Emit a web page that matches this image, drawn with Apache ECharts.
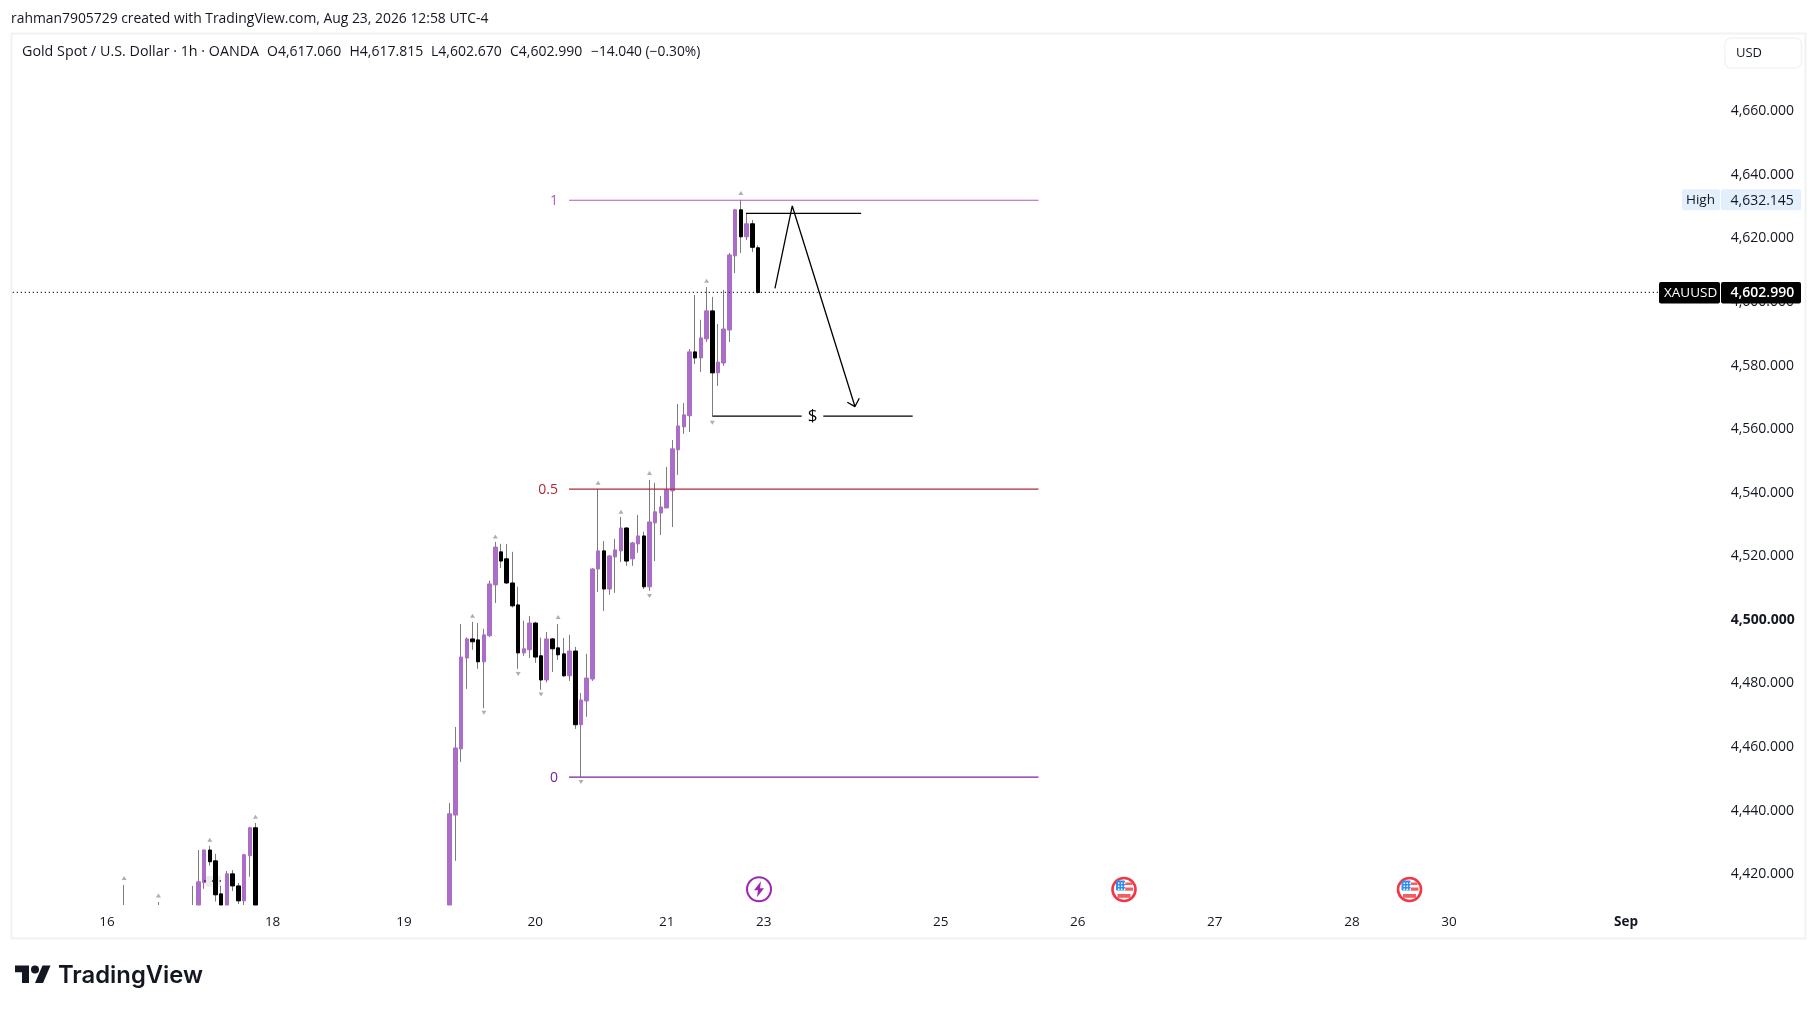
<!DOCTYPE html>
<html><head><meta charset="utf-8">
<style>html,body{margin:0;padding:0;background:#fff;overflow:hidden}#c{width:1818px;height:1011px}</style>
<script src="https://cdn.jsdelivr.net/npm/echarts@6/dist/echarts.min.js"></script>
</head><body><div id="c"></div>
<script>
// ---------- data ----------
const slots  = [19,25,31,32,33,34,35,36,37,38,39,40,41,42,76,77,78,79,80,81,82,83,84,85,86,87,88,89,90,91,92,93,94,95,96,97,98,99,100,101,102,103,104,105,106,107,108,109,110,111,112,113,114,115,116,117,118,119,120,121,122,123,124,125,126,127,128,129,130];
const opens  = [4410.3,4410.3,4410.3,4410.3,4417.3,4427.6,4424.2,4413.8,4410.3,4420.1,4416.3,4411.6,4425.8,4434.6,4410.3,4438.6,4459.4,4488.0,4494.0,4493.7,4486.8,4495.0,4511.0,4521.4,4519.2,4511.6,4504.7,4489.6,4490.6,4499.0,4488.7,4481.1,4494.0,4491.2,4489.3,4482.4,4490.2,4467.0,4474.5,4481.4,4516.0,4521.7,4509.7,4519.8,4521.7,4528.9,4519.2,4523.9,4526.4,4510.4,4530.5,4533.6,4535.2,4540.6,4553.5,4560.7,4564.2,4584.3,4582.4,4588.4,4597.2,4577.7,4580.8,4591.2,4614.5,4629.0,4620.5,4624.6,4617.06];
const closes = [4410.3,4410.3,4410.3,4417.6,4427.6,4423.9,4413.5,4410.3,4420.1,4416.3,4411.6,4426.1,4434.6,4410.3,4439.0,4459.7,4488.3,4494.0,4493.1,4486.8,4495.3,4511.3,4522.9,4518.5,4511.6,4504.4,4489.6,4490.9,4499.0,4488.3,4481.1,4494.0,4490.9,4489.0,4482.4,4490.2,4467.0,4474.8,4481.7,4516.0,4521.7,4509.7,4520.1,4522.0,4528.9,4518.5,4524.2,4526.4,4510.4,4530.8,4534.0,4535.5,4540.9,4553.8,4561.0,4564.5,4584.3,4582.4,4588.7,4597.2,4577.7,4581.1,4591.5,4614.8,4629.0,4620.5,4624.6,4617.2,4602.99];
const lows   = [4410.3,4410.3,4410.3,4410.3,4415.4,4422.7,4411.4,4410.3,4410.3,4414.7,4410.6,4410.3,4419.2,4410.3,4410.3,4424.2,4455.3,4478.3,4490.6,4484.6,4472.2,4494.6,4505.3,4516.3,4511.3,4503.9,4484.6,4488.7,4488.0,4486.5,4478.0,4480.3,4483.6,4487.4,4482.1,4480.8,4465.7,4450.6,4469.5,4480.8,4508.8,4502.8,4507.9,4508.5,4518.2,4517.0,4517.0,4521.1,4509.7,4509.1,4518.5,4526.7,4535.2,4529.2,4545.6,4558.5,4559.1,4580.5,4578.0,4587.4,4564.2,4573.6,4579.9,4587.4,4609.1,4615.4,4619.5,4615.7,4602.67];
const highs  = [4416.6,4411.2,4416.3,4427.6,4427.8,4428.9,4426.4,4416.3,4421.0,4421.3,4417.2,4426.4,4434.9,4436.1,4442.4,4466.3,4498.7,4494.5,4499.4,4499.0,4497.2,4512.3,4524.5,4523.9,4523.9,4521.4,4510.4,4499.7,4501.2,4499.4,4494.4,4496.2,4494.3,4498.7,4494.3,4495.3,4491.5,4477.0,4489.3,4516.3,4541.2,4524.8,4520.4,4525.5,4532.4,4529.2,4524.5,4533.0,4527.7,4544.0,4543.1,4539.0,4548.1,4556.6,4567.9,4568.2,4585.2,4602.2,4594.4,4604.7,4601.6,4593.1,4603.8,4615.4,4629.3,4632.145,4628.0,4625.8,4617.815];
const highMarkSlots  = [19,25,34,42,80,84,95,102,106,111,121,127];
const highMarkPrices = [4418.8,4413.3,4430.8,4438.1,4501.3,4526.2,4500.9,4543.1,4534.0,4546.2,4606.7,4634.3];
const lowMarkSlots   = [82,88,92,99,111,122];
const lowMarkPrices  = [4470.8,4483.0,4476.5,4449.0,4507.5,4562.0];
const priceTicks  = [4420,4440,4460,4480,4500,4520,4540,4560,4580,4600,4620,4640,4660];
const timeSlots   = [16,45,68,91,114,131,162,186,210,234,251,282];
const timeLabels  = ['16','18','19','20','21','23','25','26','27','28','30','Sep'];
const fibLevels   = [4632.0,4541.1,4450.5];
const fibNames    = ['1','0.5','0'];
const fibColors   = ['#B455CC','#B22833','#7B1FA2'];
const fibSpan     = [96.9,179.12];
const lastPrice   = 4602.99;
const highPrice   = 4632.145;
const topLine     = [[127.9,4627.9],[148.06,4627.9]];
const pathLine    = [[132.97,4604.3],[136.0,4630.2],[146.98,4567.1]];
const arrowHead   = [[145.64,4568.46],[146.98,4567.1],[147.74,4569.72]];
const targetLeft  = [[121.99,4564.06],[137.65,4564.06]];
const targetRight = [[141.43,4564.06],[157.09,4564.06]];
const targetMark  = [139.55,4564.06];

// ---------- chart ----------
const FONT = '"Open Sans", sans-serif';
const INK = '#131722';
const PURPLE = '#AB6EC8';
const SLOT_COUNT = 299;
const categories = Array.from({length:SLOT_COUNT},()=> '');
timeSlots.forEach((s,i)=>{categories[s]=timeLabels[i];});
const fmt = v => v.toLocaleString('en-US',{minimumFractionDigits:3,maximumFractionDigits:3});

const drawn = (data,color,width,type) => ({
  type:'line',xAxisIndex:1,yAxisIndex:0,data,symbol:'none',silent:true,z:4,animation:false,
  lineStyle:{color,width,type:type||'solid',cap:'butt'}
});
const wickData = slots.map((s,i)=>[s,opens[i],closes[i],lows[i],highs[i]]);
const bodyData = slots.map((s,i)=>[s,opens[i],closes[i],Math.min(opens[i],closes[i]),Math.max(opens[i],closes[i])])
                      .filter(d=>d[1]!==d[2]);

const chart = echarts.init(document.getElementById('c'),null,{renderer:'canvas',width:1818,height:1011});
chart.setOption({
  animation:false,
  backgroundColor:'#ffffff',
  textStyle:{fontFamily:FONT},
  grid:{left:12.8,right:97.8,top:34,bottom:106,containLabel:false},
  xAxis:[
    {type:'category',data:categories,boundaryGap:true,axisLine:{show:false},axisTick:{show:false},splitLine:{show:false},
     axisLabel:{interval:(i,v)=>v!=='',hideOverlap:false,color:INK,fontSize:13.5,fontFamily:FONT,margin:10,
       formatter:v=>v==='Sep'?'{b|Sep}':v,rich:{b:{fontWeight:'bold',fontSize:13.5,fontFamily:FONT,color:INK}}}},
    {type:'value',min:-0.5,max:298.5,show:false}
  ],
  yAxis:{type:'value',position:'right',min:4410.3,max:4684.3,scale:true,
    axisLine:{show:false},axisTick:{show:false},splitLine:{show:false},
    axisLabel:{customValues:priceTicks,margin:10.5,color:INK,fontSize:14,fontFamily:FONT,
      formatter:v=>v===4500?'{b|'+fmt(v)+'}':fmt(v),rich:{b:{fontWeight:'bold',fontSize:14,fontFamily:FONT,color:INK}}}},
  series:[
    {type:'candlestick',name:'wicks',data:wickData,encode:{x:0,y:[1,2,3,4]},barWidth:1,z:2,silent:true,
     itemStyle:{color:'#7c7c7c',color0:'#7c7c7c',borderColor:'#7c7c7c',borderColor0:'#7c7c7c',borderWidth:1}},
    {type:'candlestick',name:'bodies',data:bodyData,encode:{x:0,y:[1,2,3,4]},barWidth:4,z:3,silent:true,
     itemStyle:{color:PURPLE,color0:'#000000',borderColor:PURPLE,borderColor0:'#000000',borderWidth:1}},
    {type:'scatter',data:highMarkSlots.map((s,i)=>[s,highMarkPrices[i]]),symbol:'triangle',symbolSize:[5,4],silent:true,z:3,
     itemStyle:{color:'#9a9a9a'}},
    {type:'scatter',data:lowMarkSlots.map((s,i)=>[s,lowMarkPrices[i]]),symbol:'triangle',symbolRotate:180,symbolSize:[5,4],silent:true,z:3,
     itemStyle:{color:'#9a9a9a'}},
    ...fibLevels.map((p,i)=>drawn(fibSpan.map(x=>[x,p]),fibColors[i],1.2)),
    drawn([[-0.5,lastPrice],[287.8,lastPrice]],'#000000',1.2,[1,3]),
    drawn(topLine,'#000000',1.3),
    drawn(pathLine,'#000000',1.3),
    drawn(arrowHead,'#000000',1.3),
    drawn(targetLeft,'#000000',1.3),
    drawn(targetRight,'#000000',1.3)
  ]
});

// ---------- overlay text and page furniture, placed through the chart's scales ----------
const px = (slot,price)=>chart.convertToPixel({xAxisIndex:1,yAxisIndex:0},[slot,price]);
const txt = (x,y,text,o={}) => ({type:'text',z:100,silent:true,x,y,style:Object.assign(
  {text,fontFamily:FONT,fontSize:14,fill:INK,textAlign:'left',textVerticalAlign:'middle'},o)});
const box = (x,y,w,h,fill,r) => ({type:'rect',z:99,silent:true,shape:{x,y,width:w,height:h,r:r||0},style:{fill}});
const poly = (points,fill,z) => ({type:'polygon',z:z||100,silent:true,shape:{points},style:{fill}});
const yLast = px(0,lastPrice)[1], yHigh = px(0,highPrice)[1];
const fibX = px(fibSpan[0],4500)[0];
const t = px(targetMark[0],targetMark[1]);

const flag = cx => {
  const cy=889.5;
  const els=[
    {type:'circle',silent:true,shape:{cx,cy,r:11.5},style:{fill:'#fff',stroke:'#F23645',lineWidth:2.6}},
    box(cx-8,cy-9,9,10,'#2E8FEF',1),
    box(cx+1,cy-7,7,2.5,'#F06060'),
    box(cx+1,cy-2,8,3.2,'#F06060'),
    box(cx-6.5,cy+4.5,13,3.8,'#F06060')
  ];
  els.forEach((e,i)=>{e.z=100+i;});
  [-6,-3,0].forEach(dx=>[-7,-4,-1].forEach(dy=>{
    const d=box(cx+dx,cy+dy,1.4,1.4,'#ffffff'); d.z=110; els.push(d);
  }));
  return els;
};
const BOLT = [[761,881.3],[754,890.3],[758,890.3],[757,897.3],[764,888.3],[760,888.3]];
const LOGO_T = [[15,965.5],[29,965.5],[29,983],[22,983],[22,972.3],[15,972.3]];
const LOGO_SLASH = [[43,983],[35,983],[42.5,965.5],[50.5,965.5]];

chart.setOption({graphic:[
  {type:'rect',z:1,silent:true,shape:{x:11.5,y:33.5,width:1794,height:905},style:{fill:'none',stroke:'#F1F1F1',lineWidth:2}},
  txt(11,19.5,'rahman7905729 created with TradingView.com, Aug 23, 2026 12:58 UTC-4',{fontSize:13.9}),
  txt(22,52,'Gold Spot / U.S. Dollar · 1h · OANDA',{fontSize:14.3}),
  txt(267,52,'O4,617.060'),
  txt(349.5,52,'H4,617.815'),
  txt(431,52,'L4,602.670'),
  txt(510,52,'C4,602.990'),
  txt(591,52,'−14.040 (−0.30%)',{fontSize:13.8}),
  {type:'rect',z:99,silent:true,shape:{x:1725,y:38,width:76.5,height:30,r:6},style:{fill:'#fff',stroke:'#F0F3FA',lineWidth:1.5}},
  txt(1736,53,'USD',{fontSize:13}),
  box(1682,yHigh-10.5,38,21,'#E3EFFD',2),
  box(1721,yHigh-10.5,80,21,'#E3EFFD',2),
  txt(1686,yHigh+0.8,'High',{fontSize:13.5}),
  txt(1730.5,yHigh+0.8,fmt(highPrice)),
  box(1659,yLast-10.5,61,21.5,'#000000',2),
  box(1721,yLast-10.5,80,21.5,'#000000',2),
  txt(1664,yLast+1,'XAUUSD',{fill:'#fff',fontSize:13.5}),
  txt(1730.5,yLast+1,fmt(lastPrice),{fill:'#fff',fontWeight:600}),
  ...fibLevels.map((p,i)=>txt(fibX-11,px(0,p)[1]+1,fibNames[i],{fill:fibColors[i],textAlign:'right'})),
  txt(t[0],t[1],'$',{fill:'#000',fontSize:17,textAlign:'center'}),
  {type:'rect',z:1,silent:true,shape:{x:206,y:876,width:14.7,height:10.7},style:{fill:'#ECECEC'}},
  {type:'circle',z:100,silent:true,shape:{cx:205,cy:881,r:1},style:{fill:'#5A1080'}},
  {type:'circle',z:100,silent:true,shape:{cx:212.7,cy:881,r:.8},style:{fill:'#000'}},
  {type:'circle',z:100,silent:true,shape:{cx:220.3,cy:881,r:.8},style:{fill:'#000'}},
  {type:'circle',z:100,silent:true,shape:{cx:759,cy:889.3,r:12},style:{fill:'#fff',stroke:'#9C27B0',lineWidth:2}},
  poly(BOLT,'#9C27B0',101),
  ...flag(1124),
  ...flag(1409.5),
  poly(LOGO_T,'#131722'),
  poly(LOGO_SLASH,'#131722'),
  {type:'circle',z:100,silent:true,shape:{cx:35,cy:969.5,r:4},style:{fill:'#131722'}},
  txt(58,975.5,'TradingView',{fontFamily:'Inter, sans-serif',fontWeight:600,fontSize:23.8,fill:'#131722'})
]});
</script></body></html>
